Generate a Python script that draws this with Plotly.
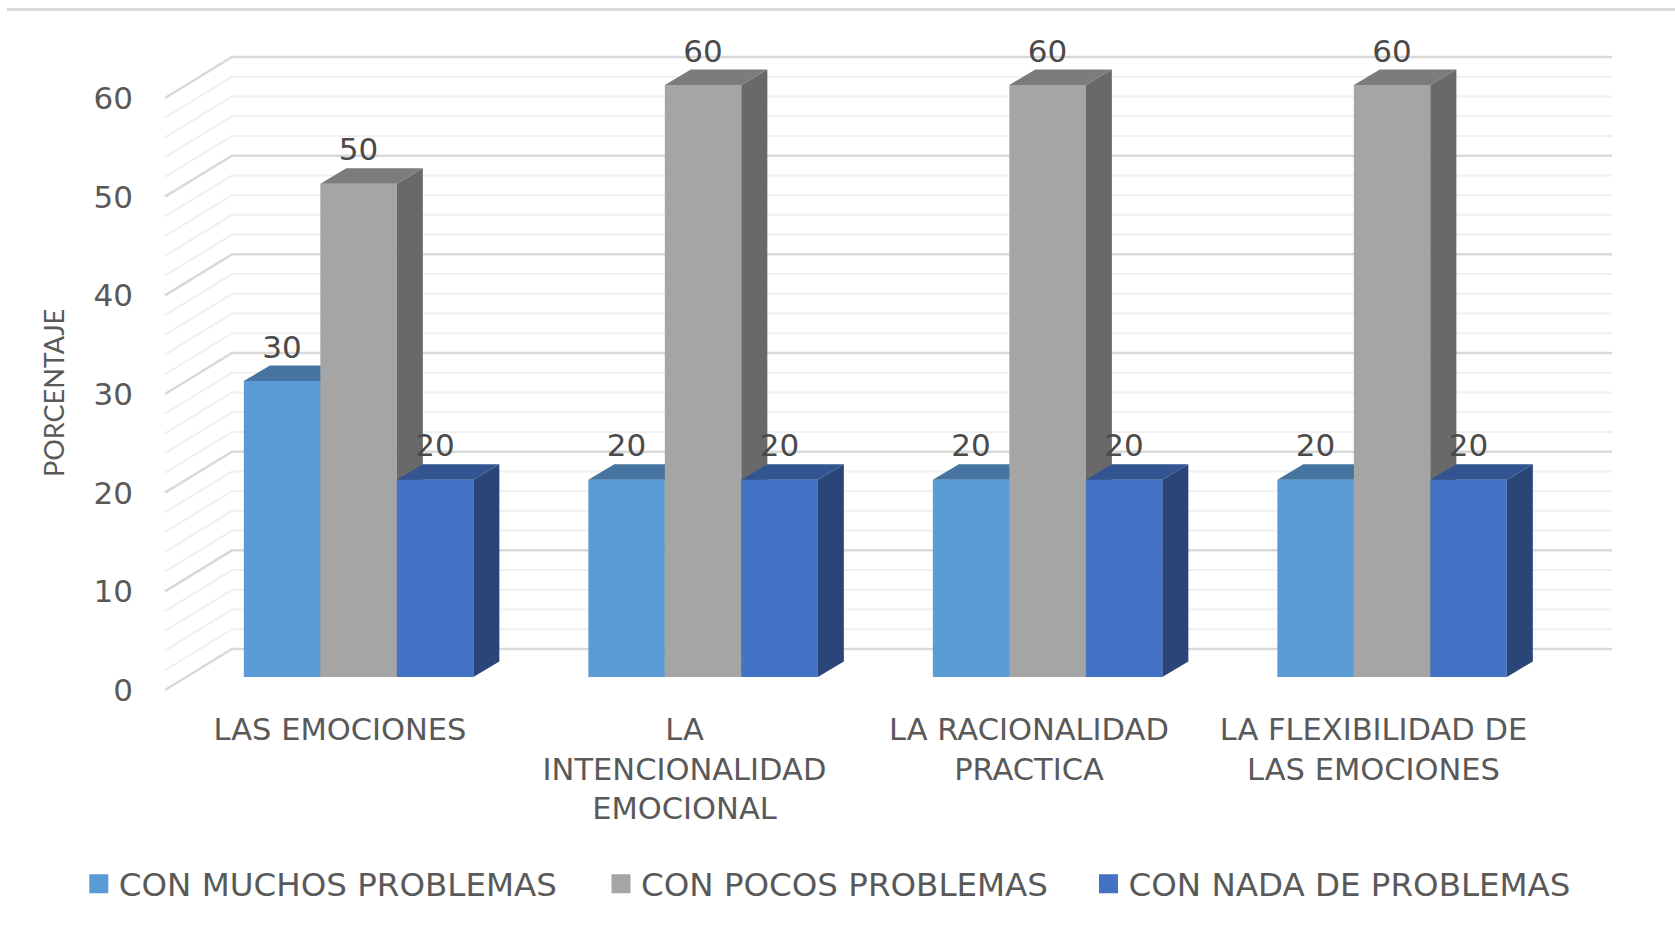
import plotly.graph_objects as go

categories = ["LAS EMOCIONES", "LA<br>INTENCIONALIDAD<br>EMOCIONAL",
              "LA RACIONALIDAD<br>PRACTICA", "LA FLEXIBILIDAD DE<br>LAS EMOCIONES"]
muchos = [30, 20, 20, 20]
pocos = [50, 60, 60, 60]
nada = [20, 20, 20, 20]
series_names = ["CON MUCHOS PROBLEMAS", "CON POCOS PROBLEMAS", "CON NADA DE PROBLEMAS"]
y_ticks = [0, 10, 20, 30, 40, 50, 60]
y_title = "PORCENTAJE"

W, H = 1675, 929
PPU = 592 / 60          # pixels per percent
UNIT = 344.5            # pixels per category
WALL_ZERO_Y, BAR_ZERO_Y = 690, 677
LABEL_X0, BAR_X0 = 340, 358.6
BAR_W = 76.5
DEPTH_X, DEPTH_Y = 26, 15.5
WALL_L, WALL_B, WALL_R = 165, 232, 1612
WALL_RISE = 41

FRONT = ["#5b9bd5", "#a5a5a5", "#4472c4"]
TOP = ["#44749f", "#7c7c7c", "#325592"]
SIDE = ["#3f6f9a", "#696969", "#2a4679"]
TICK_COL = "#595959"
FONT = "DejaVu Sans"

xr = lambda x0: [(0 - x0) / UNIT, (W - x0) / UNIT]
yr = lambda y0: [(y0 - H) / PPU, y0 / PPU]
px = lambda p: (p - LABEL_X0) / UNIT

fig = go.Figure()

# wall grid (on the base axes)
for step_major, col, width in [(False, "#f0f0f0", 2), (True, "#d9d9d9", 2.5)]:
    xs, ys = [], []
    for v in range(0, 61, 2):
        if (v % 10 == 0) != step_major:
            continue
        xs += [px(WALL_L), px(WALL_B), px(WALL_R), None]
        ys += [v, v + WALL_RISE / PPU, v + WALL_RISE / PPU, None]
    fig.add_trace(go.Scatter(x=xs, y=ys, mode="lines", line=dict(color=col, width=width),
                             hoverinfo="skip", showlegend=False))

dx, dy = DEPTH_X / UNIT, DEPTH_Y / PPU
w = BAR_W / UNIT
for s, values in enumerate([muchos, pocos, nada]):
    xa, ya = f"x{s+2}", f"y{s+2}"
    centres = [i + (s - 1) * w for i in range(len(values))]
    fig.add_trace(go.Bar(x=centres, y=values, width=w, marker=dict(color=FRONT[s], line_width=0),
                         xaxis=xa, yaxis=ya, showlegend=False, name=series_names[s]))
    sx, sy, tx, ty = [], [], [], []
    for c, v in zip(centres, values):
        l, r = c - w / 2, c + w / 2
        sx += [r, r + dx, r + dx, r, r, None]
        sy += [0, dy, v + dy, v, 0, None]
        tx += [l, r, r + dx, l + dx, l, None]
        ty += [v, v, v + dy, v + dy, v, None]
    fig.add_trace(go.Scatter(x=sx, y=sy, mode="lines", fill="toself", fillcolor=SIDE[s], line_width=0,
                             xaxis=xa, yaxis=ya, hoverinfo="skip", showlegend=False))
    fig.add_trace(go.Scatter(x=tx, y=ty, mode="lines", fill="toself", fillcolor=TOP[s], line_width=0,
                             xaxis=xa, yaxis=ya, hoverinfo="skip", showlegend=False))

# data labels, on the top-most axes
lx, ly, lt = [], [], []
for s, values in enumerate([muchos, pocos, nada]):
    for i, v in enumerate(values):
        lx.append(i + (s - 1) * w)
        ly.append(v + 31 / PPU)
        lt.append(str(v))
fig.add_trace(go.Scatter(x=lx, y=ly, text=lt, mode="text", textposition="middle center",
                         textfont=dict(family=FONT, size=31, color="#4a4a4a"),
                         xaxis="x4", yaxis="y4", hoverinfo="skip", showlegend=False))

# legend entries
legend_x = [98.8, 621, 1108.5]
for s, name in enumerate(series_names):
    lid = "legend" if s == 0 else f"legend{s+1}"
    fig.add_trace(go.Scatter(x=[None], y=[None], mode="markers", name=name, legend=lid,
                             marker=dict(symbol="square", size=16, color=FRONT[s],
                                         line=dict(color=FRONT[s], width=3))))

layout = dict(
    width=W, height=H, margin=dict(l=0, r=0, t=0, b=0), autosize=False,
    paper_bgcolor="white", plot_bgcolor="white", barmode="overlay",
    xaxis=dict(range=xr(LABEL_X0), domain=[0, 1], anchor="free", position=(H - 708.5) / H,
               tickmode="array", tickvals=list(range(4)), ticktext=categories,
               showgrid=False, zeroline=False, showline=False, ticks="",
               tickfont=dict(family=FONT, size=30.5, color=TICK_COL)),
    yaxis=dict(range=yr(WALL_ZERO_Y), domain=[0, 1], anchor="free", position=133 / W,
               tickmode="array", tickvals=y_ticks, showgrid=False, zeroline=False, showline=False,
               ticks="", tickfont=dict(family=FONT, size=31, color=TICK_COL)),
    annotations=[dict(text=y_title, textangle=-90, x=53 / W, y=(H - 393) / H, xref="paper", yref="paper",
                      xanchor="center", yanchor="middle", showarrow=False,
                      font=dict(family="Lato", size=27, color=TICK_COL))],
    shapes=[dict(type="line", xref="paper", yref="paper", x0=7 / W, x1=1, y0=(H - 9.5) / H, y1=(H - 9.5) / H,
                 line=dict(color="#d9d9d9", width=3))],
)
for n in (2, 3, 4):
    layout[f"xaxis{n}"] = dict(range=xr(BAR_X0), overlaying="x", visible=False)
    layout[f"yaxis{n}"] = dict(range=yr(BAR_ZERO_Y), overlaying="y", visible=False)
for s, cx in enumerate(legend_x):
    lid = "legend" if s == 0 else f"legend{s+1}"
    layout[lid] = dict(x=(cx - 20) / W, y=(H - 884) / H, xanchor="left", yanchor="middle",
                       bgcolor="rgba(0,0,0,0)", orientation="h",
                       font=dict(family=FONT, size=32.5, color=TICK_COL))
fig.update_layout(**layout)

fig.write_html("out.html", config=dict(displayModeBar=False),
               post_script="document.body.style.margin='0';")
